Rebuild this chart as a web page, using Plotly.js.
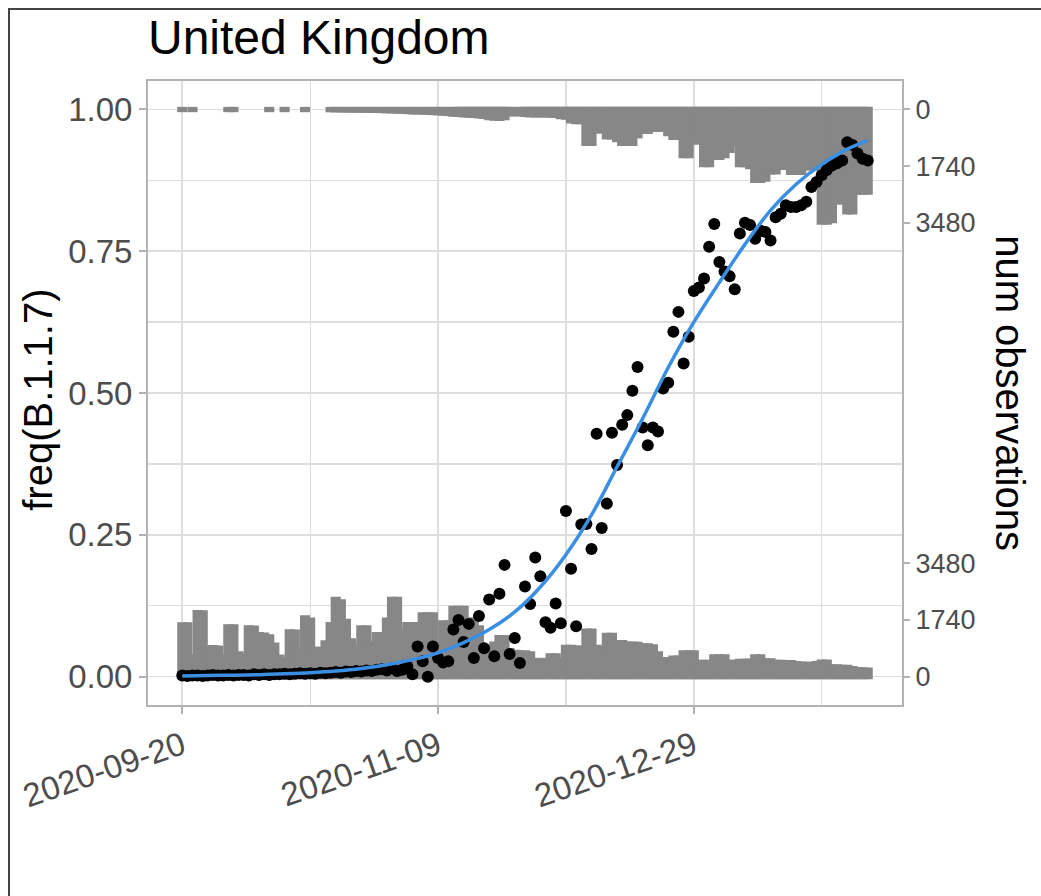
<!DOCTYPE html>
<html>
<head>
<meta charset="utf-8">
<script src="https://cdn.plot.ly/plotly-3.0.1.min.js"></script>
<style>
  html, body { margin: 0; padding: 0; background: #fff; }
  #chart { width: 1041px; height: 896px; }
  #frame { position: absolute; left: 8px; top: 8px; width: 1031px; height: 900px;
           border-top: 2px solid #444; border-left: 2px solid #444;
           pointer-events: none; z-index: 10; }
</style>
</head>
<body>
<div id="frame"></div>
<div id="chart"></div>
<script>
// ---- data ----
const dates = [
 '2020-09-20','2020-09-21','2020-09-22','2020-09-23','2020-09-24','2020-09-25','2020-09-26','2020-09-27','2020-09-28','2020-09-29','2020-09-30',
 '2020-10-01','2020-10-02','2020-10-03','2020-10-04','2020-10-05','2020-10-06','2020-10-07','2020-10-08','2020-10-09','2020-10-10',
 '2020-10-11','2020-10-12','2020-10-13','2020-10-14','2020-10-15','2020-10-16','2020-10-17','2020-10-18','2020-10-19','2020-10-20',
 '2020-10-21','2020-10-22','2020-10-23','2020-10-24','2020-10-25','2020-10-26','2020-10-27','2020-10-28','2020-10-29','2020-10-30','2020-10-31',
 '2020-11-01','2020-11-02','2020-11-03','2020-11-04','2020-11-05','2020-11-06','2020-11-07','2020-11-08','2020-11-09','2020-11-10',
 '2020-11-11','2020-11-12','2020-11-13','2020-11-14','2020-11-15','2020-11-16','2020-11-17','2020-11-18','2020-11-19','2020-11-20',
 '2020-11-21','2020-11-22','2020-11-23','2020-11-24','2020-11-25','2020-11-26','2020-11-27','2020-11-28','2020-11-29','2020-11-30',
 '2020-12-01','2020-12-02','2020-12-03','2020-12-04','2020-12-05','2020-12-06','2020-12-07','2020-12-08','2020-12-09','2020-12-10',
 '2020-12-11','2020-12-12','2020-12-13','2020-12-14','2020-12-15','2020-12-16','2020-12-17','2020-12-18','2020-12-19','2020-12-20',
 '2020-12-21','2020-12-22','2020-12-23','2020-12-24','2020-12-25','2020-12-26','2020-12-27','2020-12-28','2020-12-29','2020-12-30','2020-12-31',
 '2021-01-01','2021-01-02','2021-01-03','2021-01-04','2021-01-05','2021-01-06','2021-01-07','2021-01-08','2021-01-09','2021-01-10',
 '2021-01-11','2021-01-12','2021-01-13','2021-01-14','2021-01-15','2021-01-16','2021-01-17','2021-01-18','2021-01-19','2021-01-20',
 '2021-01-21','2021-01-22','2021-01-23','2021-01-24','2021-01-25','2021-01-26','2021-01-27','2021-01-28','2021-01-29','2021-01-30','2021-01-31',
 '2021-02-01'
];

const freqB117 = [
 .002,.001,.002,.002,.001,.002,.003,.002,.002,.003,
 .002,.003,.003,.002,.004,.003,.004,.003,.004,.004,
 .005,.004,.005,.006,.005,.006,.005,.007,.006,.007,
 .008,.007,.009,.008,.010,.009,.011,.010,.012,.013,
 .011,.015,.010,.012,.018,.004,.053,.027,.000,.053,
 .033,.025,.027,.083,.100,.061,.093,.033,.107,.050,
 .136,.036,.146,.197,.040,.068,.024,.159,.128,.210,
 .177,.096,.086,.129,.094,.292,.190,.089,.268,.269,
 .225,.428,.262,.305,.430,.373,.444,.461,.504,.546,
 .439,.408,.439,.432,.508,.518,.608,.643,.552,.599,
 .680,.686,.702,.758,.798,.731,.714,.706,.683,.781,
 .800,.796,.772,.786,.784,.769,.810,.816,.831,.828,
 .828,.831,.837,.863,.872,.884,.893,.901,.905,.910,
 .942,.937,.922,.913,.910
];

// daily counts of B.1.1.7 sequences (bars hanging from 1.00)
const b117Counts = [
 10,null,10,null,null,null,null,null,null,10,
 10,null,null,null,null,null,null,10,null,null,
 10,null,null,null,10,null,null,null,null,15,
 15,20,20,25,25,30,30,35,35,40,
 45,50,55,60,70,80,80,90,90,100,
 110,120,130,150,160,170,180,190,200,220,
 260,270,280,260,140,140,140,160,170,170,
 170,170,180,190,230,240,360,380,380,1050,
 1050,660,660,850,850,930,1050,1050,1050,820,
 680,680,620,620,560,750,860,860,1420,1420,
 1000,1000,1700,1700,1480,1480,1420,1260,1060,1700,
 1700,1760,2180,2180,2140,1920,1920,1780,1780,1940,
 1940,1940,1800,1800,1800,3460,3460,3420,2840,2840,
 3150,3150,2540,2540,2540
];

// daily counts of other sequences (bars rising from 0.00)
const otherCounts = [
 1590,1590,610,1970,1960,870,890,880,610,1530,
 1530,700,630,1500,1490,1290,1280,1220,970,600,
 520,1380,1370,840,1810,1740,840,840,1040,1600,
 2370,2300,1700,1100,900,1500,1500,1000,1290,1290,
 1740,2370,2370,1400,1600,1600,1600,1900,1900,1900,
 970,1650,1650,2100,2100,2100,1740,1740,1500,900,
 900,1000,1200,1200,800,750,730,730,700,500,
 480,500,640,640,500,900,900,880,880,1400,
 1400,900,870,1270,1270,1050,1050,1000,1000,990,
 950,950,920,700,520,520,570,570,730,730,
 730,440,440,440,610,610,610,440,440,470,
 470,480,610,610,490,490,440,440,430,430,
 400,390,380,380,400,450,450,300,300,290,
 290,250,220,210,200
];

// fitted logistic curve, read at 5-day steps
const fitDates = ['2020-09-20','2020-09-25','2020-09-30','2020-10-05','2020-10-10','2020-10-15','2020-10-20',
 '2020-10-25','2020-10-30','2020-11-04','2020-11-09','2020-11-14','2020-11-19','2020-11-24','2020-11-29',
 '2020-12-04','2020-12-09','2020-12-14','2020-12-19','2020-12-24','2020-12-29','2021-01-03','2021-01-08',
 '2021-01-13','2021-01-18','2021-01-23','2021-01-28','2021-02-01'];
const fitFreq = [.001,.002,.0025,.0035,.005,.007,.010,.0145,.021,.030,.042,.060,.083,.114,.158,
 .215,.285,.370,.455,.545,.625,.695,.762,.822,.868,.903,.930,.945];

const xTickVals = ['2020-09-20','2020-11-09','2020-12-29'];
const xTickText = ['2020-09-20','2020-11-09','2020-12-29'];
const xMinorVals = ['2020-10-15','2020-12-04','2021-01-23'];
const yTickVals = [0, 0.25, 0.5, 0.75, 1];
const yTickText = ['0.00','0.25','0.50','0.75','1.00'];
const yMinorVals = [0.125, 0.375, 0.625, 0.875];
const y2TickVals = [0, 0.1, 0.2, 0.8, 0.9, 1.0];
const y2TickText = ['0','1740','3480','3480','1740','0'];
const obsPerUnit = 17400; // 1740 observations = 0.1 on the freq scale

// ---- build ----
const grey = '#878787';
const DAY = 86400000;
const bottomBars = {
  type: 'bar', x: dates, y: otherCounts.map(c => c == null ? null : c / obsPerUnit),
  width: DAY, marker: { color: grey, line: { color: grey, width: 5 } },
  hoverinfo: 'skip', showlegend: false
};
const topBars = {
  type: 'bar', x: dates, y: b117Counts.map(c => c == null ? null : -c / obsPerUnit), base: 1,
  width: DAY, marker: { color: grey, line: { color: grey, width: 5 } },
  hoverinfo: 'skip', showlegend: false
};
const pts = {
  type: 'scatter', mode: 'markers', x: dates, y: freqB117,
  marker: { color: '#000', size: 12 }, showlegend: false
};
const fit = {
  type: 'scatter', mode: 'lines', x: fitDates, y: fitFreq, yaxis: 'y2',
  line: { color: '#3a8fe3', width: 3.5, shape: 'spline', smoothing: 1 }, showlegend: false
};

const font = 'Liberation Sans, Arial, Helvetica, sans-serif';
const tickFont = { family: font, size: 33, color: '#4d4d4d' };
const tickFontR = { family: font, size: 27, color: '#4d4d4d' };
const gridCol = '#dedede';
const lineCol = '#b3b3b3';

const layout = {
  width: 1041, height: 896,
  margin: { l: 148, r: 139, t: 81, b: 191, pad: 0 },
  paper_bgcolor: '#fff', plot_bgcolor: '#fff',
  barmode: 'overlay', bargap: 0,
  font: { family: font },
  title: { text: 'United Kingdom', font: { family: font, size: 48, color: '#000' },
           xref: 'paper', x: 0, xanchor: 'left', yref: 'container', y: 0.958, yanchor: 'middle' },
  xaxis: {
    type: 'date', range: ['2020-09-13 07:12', '2021-02-07 16:48'],
    tickmode: 'array', tickvals: xTickVals, ticktext: xTickText, tickangle: -19,
    ticks: 'outside', ticklen: 7, tickwidth: 2, tickcolor: lineCol, tickfont: tickFont,
    showgrid: true, gridcolor: gridCol, gridwidth: 1.6,
    minor: { tickmode: 'array', tickvals: xMinorVals, showgrid: true, gridcolor: gridCol, gridwidth: 1.2, ticks: '' },
    showline: true, mirror: true, linecolor: lineCol, linewidth: 2, zeroline: false
  },
  yaxis: {
    range: [-0.05, 1.05], tickmode: 'array', tickvals: yTickVals, ticktext: yTickText,
    ticks: 'outside', ticklen: 7, tickwidth: 2, tickcolor: lineCol, tickfont: tickFont,
    showgrid: true, gridcolor: gridCol, gridwidth: 1.6,
    minor: { tickmode: 'array', tickvals: yMinorVals, showgrid: true, gridcolor: gridCol, gridwidth: 1.2, ticks: '' },
    showline: true, mirror: true, linecolor: lineCol, linewidth: 2, zeroline: false
  },
  yaxis2: {
    overlaying: 'y', side: 'right', range: [-0.05, 1.05],
    tickmode: 'array', tickvals: y2TickVals, ticktext: y2TickText,
    ticks: 'outside', ticklen: 7, tickwidth: 2, tickcolor: lineCol, tickfont: tickFontR,
    showgrid: false, zeroline: false, showline: false
  },
  annotations: [
    { text: 'freq(B.1.1.7)', xref: 'paper', yref: 'paper', x: -0.146, y: 0.489,
      xanchor: 'center', yanchor: 'middle', textangle: -90, showarrow: false,
      font: { family: font, size: 40, color: '#000' } },
    { text: 'num observations', xref: 'paper', yref: 'paper', x: 1.143, y: 0.5,
      xanchor: 'center', yanchor: 'middle', textangle: 90, showarrow: false,
      font: { family: font, size: 40, color: '#000' } }
  ]
};

Plotly.newPlot('chart', [bottomBars, topBars, pts, fit], layout, { displayModeBar: false, staticPlot: true });
</script>
</body>
</html>
